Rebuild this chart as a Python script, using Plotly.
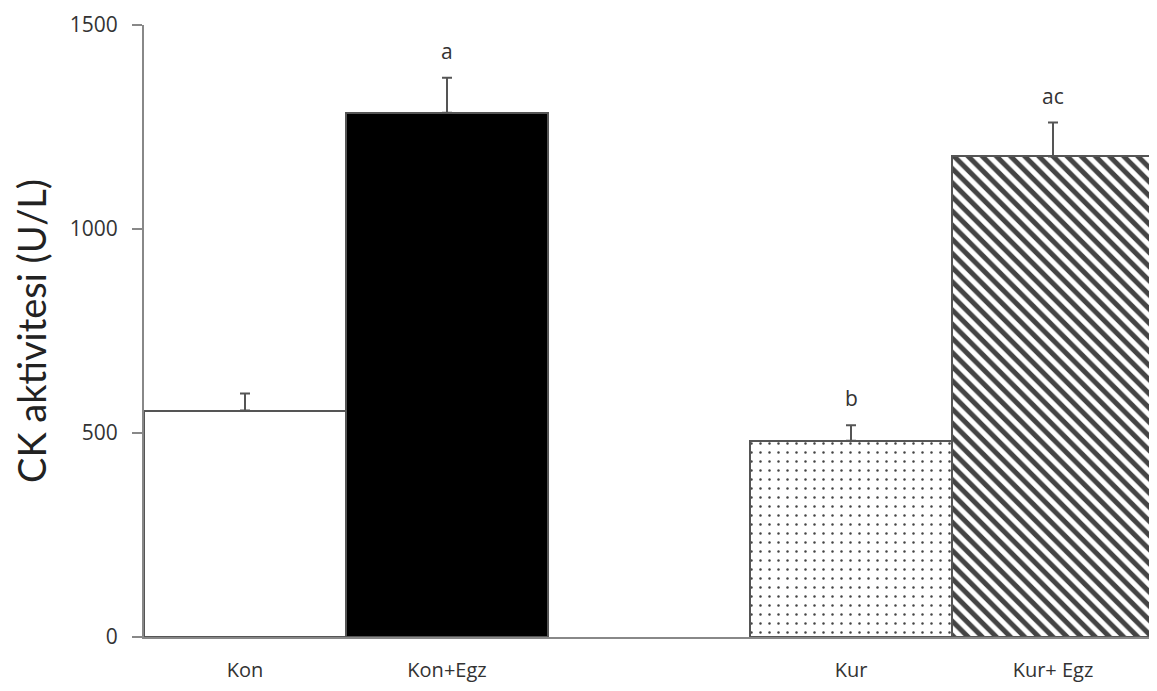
import plotly.graph_objects as go

categories = ["Kon", "Kon+Egz", "Kur", "Kur+ Egz"]
positions = [0, 1, 3, 4]
values = [555, 1285, 481, 1178]
errors = [42, 86, 38, 83]
letters = ["", "a", "b", "ac"]

fill_colors = ["white", "black", "white", "white"]
pattern_shapes = ["", "", ".", "\\"]
pattern_fg = ["black", "black", "#9a9a9a", "black"]
pattern_size = [8, 8, 9, 10]
pattern_solidity = [0.3, 0.3, 0.06, 0.5]

fig = go.Figure()
fig.add_trace(go.Bar(
    x=positions, y=values, width=1.0,
    marker=dict(
        color=fill_colors,
        line=dict(color="#555555", width=2),
        pattern=dict(shape=pattern_shapes, fgcolor=pattern_fg, bgcolor=fill_colors,
                     size=pattern_size, solidity=pattern_solidity, fillmode="overlay",
                     fgopacity=1),
    ),
    error_y=dict(type="data", array=errors, arrayminus=[0]*len(errors), symmetric=False,
                 color="#555555", thickness=2, width=5),
    showlegend=False,
))

for p, v, e, t in zip(positions, values, errors, letters):
    if t:
        fig.add_annotation(x=p, y=v + e, text=t, showarrow=False, yanchor="middle",
                           yshift=27, font=dict(family="Open Sans", size=21, color="#333333"))

fig.update_layout(
    width=1149, height=683,
    margin=dict(l=136, r=3, t=17, b=54, autoexpand=False),
    plot_bgcolor="white", paper_bgcolor="white",
    bargap=0,
    font=dict(family="Open Sans", color="#333333"),
)
fig.update_xaxes(
    range=[-0.5, 4.5], tickvals=positions, ticktext=categories, automargin=False,
    showline=True, linecolor="#888888", linewidth=2, showgrid=False, zeroline=False,
    ticks="", ticklabelstandoff=14, tickfont=dict(size=20, color="#333333"),
)
fig.update_yaxes(
    range=[0, 1500], tickvals=[0, 500, 1000, 1500], automargin=False,
    showline=True, linecolor="#888888", linewidth=2, showgrid=False, zeroline=False,
    ticks="outside", ticklen=10, tickcolor="#888888", tickwidth=2,
    ticklabelstandoff=10, ticklabeloverflow="allow",
    tickfont=dict(size=21, color="#333333"),
    title=dict(text="CK aktivitesi (U/L)", font=dict(family="Lato", size=38, color="#222222"), standoff=20),
)
fig.write_html("out.html")
